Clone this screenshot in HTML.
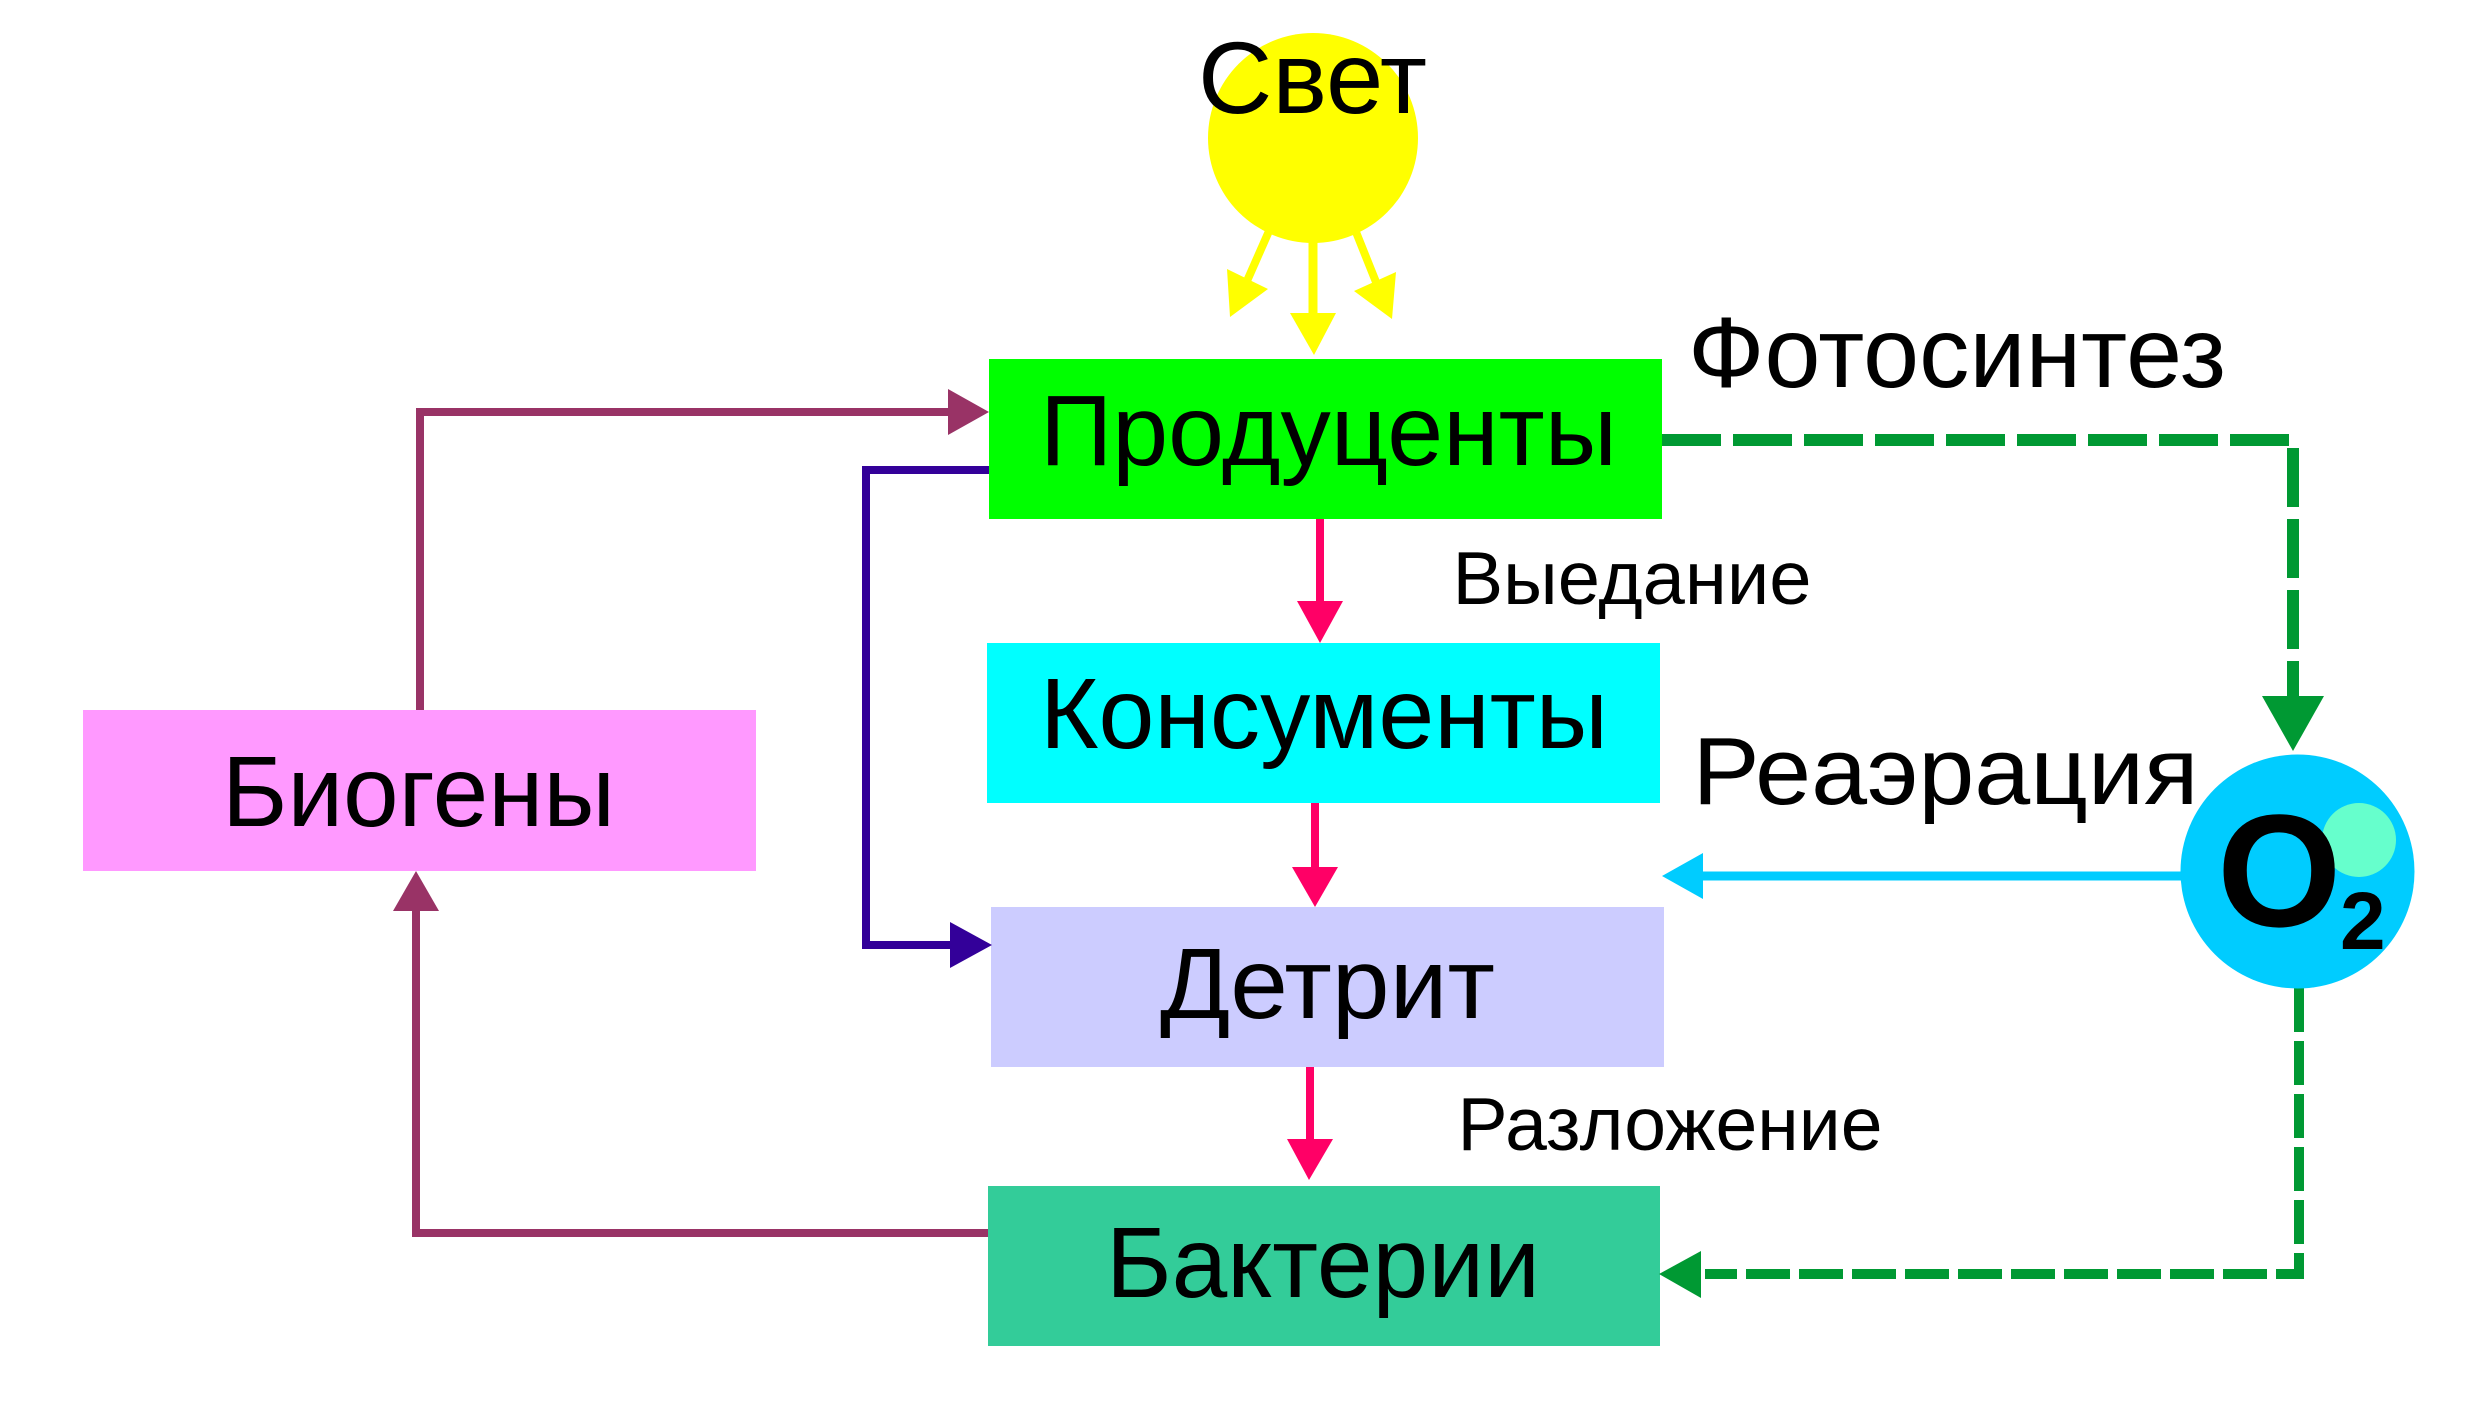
<!DOCTYPE html>
<html>
<head>
<meta charset="utf-8">
<style>
  html, body { margin: 0; padding: 0; background: #ffffff; }
  body { width: 2486px; height: 1402px; overflow: hidden; }
  svg { display: block; }
  text { font-family: "Liberation Sans", "Noto Sans CJK SC", sans-serif; fill: #000000; }
</style>
</head>
<body>
<svg width="2486" height="1402" viewBox="0 0 2486 1402" xmlns="http://www.w3.org/2000/svg">
  <rect x="0" y="0" width="2486" height="1402" fill="#ffffff"/>

  <!-- Sun rays -->
  <line x1="1313" y1="228" x2="1313" y2="316" stroke="#FFFF00" stroke-width="9"/>
  <polygon points="1290,313 1336,313 1314,355" fill="#FFFF00"/>
  <line x1="1273" y1="222" x2="1247" y2="281" stroke="#FFFF00" stroke-width="8"/>
  <polygon points="1227,269 1268,289 1230,317" fill="#FFFF00"/>
  <line x1="1352" y1="222" x2="1376" y2="282" stroke="#FFFF00" stroke-width="8"/>
  <polygon points="1354,291 1396,272 1392,319" fill="#FFFF00"/>

  <!-- Sun -->
  <circle cx="1313" cy="138" r="105" fill="#FFFF00"/>
  <text x="1312.5" y="113" font-size="102" text-anchor="middle" textLength="229" lengthAdjust="spacingAndGlyphs">Свет</text>

  <!-- Boxes -->
  <rect x="989" y="359" width="673" height="160" fill="#00FF00"/>
  <rect x="987" y="643" width="673" height="160" fill="#00FFFF"/>
  <rect x="991" y="907" width="673" height="160" fill="#CCCCFF"/>
  <rect x="988" y="1186" width="672" height="160" fill="#33CC99"/>
  <rect x="83" y="710" width="673" height="161" fill="#FF99FF"/>

  <!-- Maroon connectors -->
  <polyline points="988,1233 416,1233 416,905" fill="none" stroke="#993366" stroke-width="8" stroke-linejoin="miter"/>
  <polygon points="393,911 439,911 416,871" fill="#993366"/>
  <polyline points="420,710 420,412 952,412" fill="none" stroke="#993366" stroke-width="8" stroke-linejoin="miter"/>
  <polygon points="948,389 948,435 989,412" fill="#993366"/>

  <!-- Indigo connector -->
  <polyline points="989,470 866,470 866,945 954,945" fill="none" stroke="#330099" stroke-width="8" stroke-linejoin="miter"/>
  <polygon points="950,922 950,968 992,945" fill="#330099"/>

  <!-- Pink arrows -->
  <line x1="1320" y1="519" x2="1320" y2="605" stroke="#FF0066" stroke-width="8"/>
  <polygon points="1297,601 1343,601 1320,643" fill="#FF0066"/>
  <line x1="1315" y1="803" x2="1315" y2="871" stroke="#FF0066" stroke-width="8"/>
  <polygon points="1292,867 1338,867 1315,907" fill="#FF0066"/>
  <line x1="1310" y1="1067" x2="1310" y2="1143" stroke="#FF0066" stroke-width="8"/>
  <polygon points="1287,1139 1333,1139 1309,1180" fill="#FF0066"/>

  <!-- Blue arrow (Реаэрация) -->
  <line x1="2185" y1="876" x2="1700" y2="876" stroke="#00CCFF" stroke-width="9"/>
  <polygon points="1703,853 1703,899 1662,876" fill="#00CCFF"/>

  <!-- Green dashed: Продуценты -> O2 -->
  <path d="M1662,440 H2293 V700" fill="none" stroke="#009933" stroke-width="12" stroke-dasharray="59 12" stroke-linejoin="miter"/>
  <polygon points="2262,696 2324,696 2293,751" fill="#009933"/>

  <!-- Green dashed: O2 -> Бактерии -->
  <path d="M2299,988 V1274 H1705" fill="none" stroke="#009933" stroke-width="10" stroke-dasharray="44 9" stroke-linejoin="miter"/>
  <polygon points="1701,1251 1701,1298 1659,1274" fill="#009933"/>

  <!-- O2 circle -->
  <circle cx="2297.5" cy="871.5" r="117" fill="#00CCFF"/>
  <circle cx="2359" cy="840" r="37" fill="#66FFCC"/>
  <text x="2217" y="926" font-size="160" font-weight="bold">O</text>
  <text x="2340" y="949" font-size="82" font-weight="bold">2</text>

  <!-- Box labels -->
  <text x="1328.5" y="465" font-size="100" text-anchor="middle" textLength="577" lengthAdjust="spacingAndGlyphs">Продуценты</text>
  <text x="1324" y="748" font-size="100" text-anchor="middle" textLength="568" lengthAdjust="spacingAndGlyphs">Консументы</text>
  <text x="1327.5" y="1018" font-size="100" text-anchor="middle" textLength="335" lengthAdjust="spacingAndGlyphs">Детрит</text>
  <text x="1323" y="1297" font-size="100" text-anchor="middle" textLength="434" lengthAdjust="spacingAndGlyphs">Бактерии</text>
  <text x="418.5" y="826" font-size="100" text-anchor="middle" textLength="393" lengthAdjust="spacingAndGlyphs">Биогены</text>

  <!-- Connector labels -->
  <text x="1957" y="387" font-size="100" text-anchor="middle" textLength="538" lengthAdjust="spacingAndGlyphs">Фотосинтез</text>
  <text x="1632" y="604" font-size="75" text-anchor="middle" textLength="359" lengthAdjust="spacingAndGlyphs">Выедание</text>
  <text x="1945.5" y="804" font-size="96" text-anchor="middle" textLength="506" lengthAdjust="spacingAndGlyphs">Реаэрация</text>
  <text x="1670" y="1150" font-size="75" text-anchor="middle" textLength="425" lengthAdjust="spacingAndGlyphs">Разложение</text>
</svg>
</body>
</html>
